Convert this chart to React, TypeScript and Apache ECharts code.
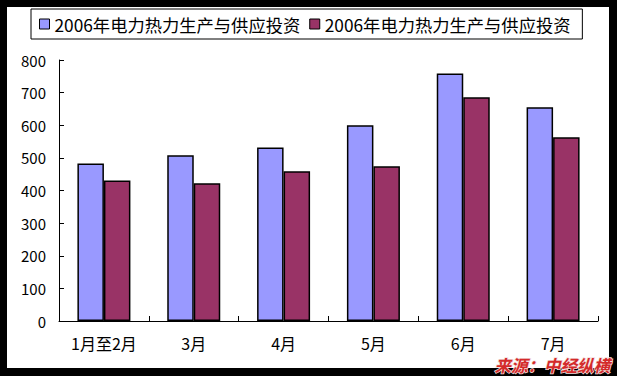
import React, { useEffect, useRef } from "react";
import * as echarts from "echarts";

const categories = ["1月至2月", "3月", "4月", "5月", "6月", "7月"];
const seriesNames = ["2006年电力热力生产与供应投资", "2006年电力热力生产与供应投资 "];
const seriesA = [483, 508, 532, 600, 759, 655];
const seriesB = [431, 422, 459, 474, 686, 563];
const yTicks = { min: 0, max: 800, interval: 100 };
const sourceText = "来源：中经纵横";

const FONT = "'Noto Sans CJK SC', sans-serif";

export default function App() {
  const ref = useRef<HTMLDivElement>(null);
  useEffect(() => {
    document.body.style.margin = "0";
    const chart = echarts.init(ref.current!, null, { renderer: "svg" });
    chart.setOption({
      animation: false,
      backgroundColor: "#ffffff",
      textStyle: { fontFamily: FONT },
      legend: {
        left: 31,
        top: 9,
        padding: [5, 8, 5, 8],
        itemWidth: 10,
        itemHeight: 10,
        itemGap: 9,
        borderColor: "#000",
        borderWidth: 1,
        icon: "rect",
        itemStyle: { borderColor: "#000", borderWidth: 1 },
        textStyle: { fontFamily: FONT, fontSize: 17.3, color: "#000", lineHeight: 20 },
        data: seriesNames,
      },
      grid: { left: 59, right: 19, top: 60, bottom: 55, containLabel: false },
      xAxis: {
        type: "category",
        data: categories,
        axisLine: { lineStyle: { color: "#000", width: 1 } },
        axisTick: { show: true, inside: true, length: 5, lineStyle: { color: "#000" } },
        axisLabel: { color: "#000", fontSize: 16, margin: 14, lineHeight: 16, fontFamily: FONT },
        splitLine: { show: false },
      },
      yAxis: {
        type: "value",
        min: yTicks.min,
        max: yTicks.max,
        interval: yTicks.interval,
        axisLine: { show: true, lineStyle: { color: "#000", width: 1 } },
        axisTick: { show: true, inside: true, length: 5, lineStyle: { color: "#000" } },
        axisLabel: { color: "#000", fontSize: 15, margin: 13, fontFamily: FONT },
        splitLine: { show: false },
      },
      series: [
        {
          name: seriesNames[0],
          type: "bar",
          data: seriesA,
          barGap: "0%",
          barCategoryGap: "41%",
          itemStyle: { color: "#9999FF", borderColor: "#000", borderWidth: 1.5 },
        },
        {
          name: seriesNames[1],
          type: "bar",
          data: seriesB,
          barGap: "0%",
          barCategoryGap: "41%",
          itemStyle: { color: "#993366", borderColor: "#000", borderWidth: 1.5 },
        },
      ],
      graphic: [
        { type: "rect", shape: { x: 0, y: 0, width: 617, height: 7 }, style: { fill: "#000" }, z: 100 },
        { type: "rect", shape: { x: 0, y: 368, width: 617, height: 8 }, style: { fill: "#000" }, z: 100 },
        { type: "rect", shape: { x: 0, y: 0, width: 7, height: 376 }, style: { fill: "#000" }, z: 100 },
        { type: "rect", shape: { x: 609, y: 0, width: 8, height: 376 }, style: { fill: "#000" }, z: 100 },
        {
          type: "text",
          x: 610,
          y: 365,
          z: 101,
          style: {
            text: sourceText,
            align: "right",
            verticalAlign: "middle",
            fill: "#d42a2a",
            font: "italic bold 16.5px 'Noto Sans CJK SC', sans-serif",
            lineHeight: 16,
            stroke: "#f3dede",
            lineWidth: 1.5,
          },
        },
      ],
    });
    return () => chart.dispose();
  }, []);
  return <div ref={ref} style={{ width: 617, height: 376 }} />;
}
